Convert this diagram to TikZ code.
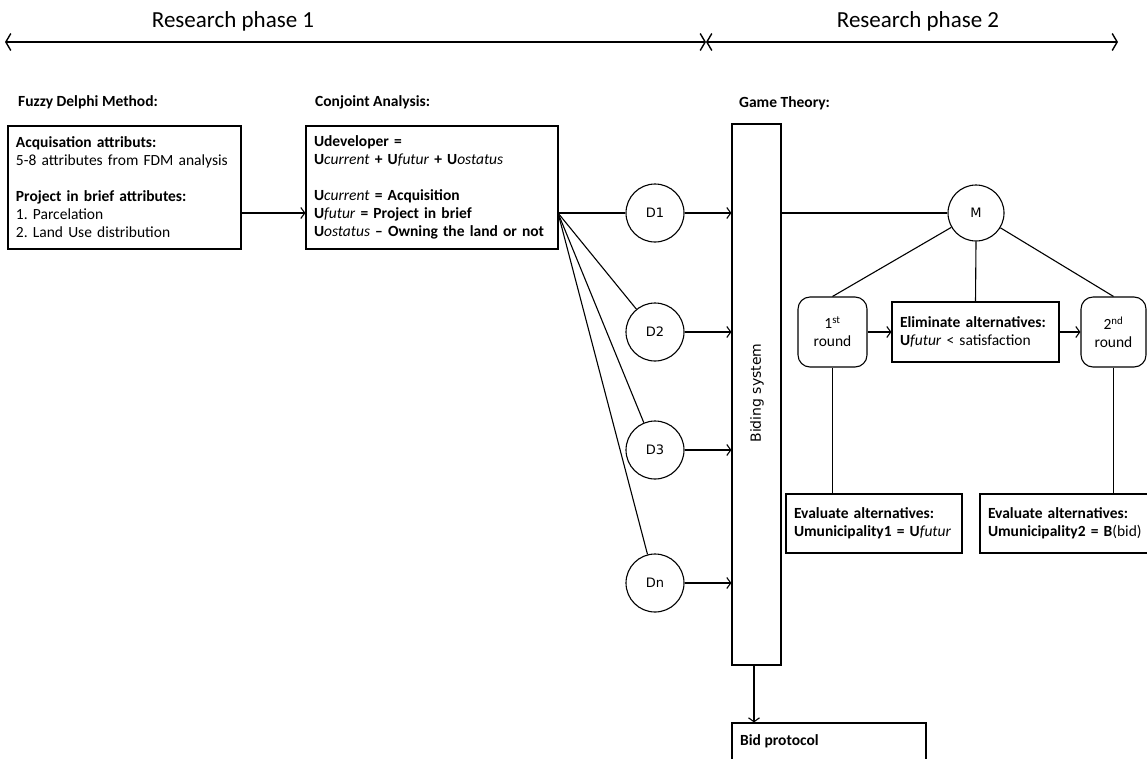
\documentclass[tikz,border=0pt]{standalone}
\usepackage{fontspec}
\setmainfont{Carlito}
\newfontfamily\labelfont{DejaVu Sans}
\usetikzlibrary{arrows.meta,calc}

\tikzset{
  line/.style={line width=1.1pt},
  arr/.style={line, -{Straight Barb[length=4pt,width=11pt,line width=1.1pt]}},
  phase/.style={line width=2.6pt, {Straight Barb[length=5pt,width=17pt,line width=1.4pt]}-{Straight Barb[length=5pt,width=17pt,line width=1.4pt]}},
  phasetitle/.style={font=\fontsize{23}{26}\selectfont},
  heading/.style={anchor=west, inner sep=0pt, font=\fontsize{15.5}{18}\selectfont\bfseries},
  txtbox/.style={draw, line width=1.1pt, align=left, inner xsep=8pt, inner ysep=4pt,
    font=\fontsize{15.5}{18}\selectfont},
  roundbox/.style={draw, line width=1.1pt, rounded corners=12pt, align=center,
    font=\fontsize{15.5}{18}\selectfont, minimum height=70pt, inner sep=2pt},
  agent/.style={draw, circle, line width=1.1pt, minimum size=58pt, inner sep=0pt,
    font=\labelfont\fontsize{13}{15}\selectfont},
}

\begin{document}
\begin{tikzpicture}[x=1pt,y=-1pt]
\useasboundingbox (0,0) rectangle (1147,758);

% research phases
\coordinate (pL) at (5,42);
\coordinate (pM) at (706,42);
\coordinate (pR) at (1118,42);
\draw[phase] (pL) -- (pM);
\draw[phase] (pM) -- (pR);
\node[phasetitle] (ph1) at (233,21) {Research phase 1};
\node[phasetitle] (ph2) at (918,21) {Research phase 2};

% section headings
\node[heading] (hFDM) at (18,102) {Fuzzy Delphi Method:};
\node[heading] (hCA) at (315,102) {Conjoint Analysis:};
\node[heading] (hGT) at (739,103) {Game Theory:};

% Fuzzy Delphi box
\node[txtbox, text width=217pt, minimum height=123pt] (fdm) at (124.5,187.5) {%
\textbf{Acquisation attributs:}\\
5-8 attributes from FDM analysis\\[18pt]
\textbf{Project in brief attributes:}\\
1.\ Parcelation\\
2.\ Land Use distribution};

% Conjoint analysis box
\node[txtbox, text width=236pt, minimum height=123pt] (ca) at (432,187.5) {%
\textbf{Udeveloper =}\\
\textbf{U}\textit{current} \textbf{+ U}\textit{futur} \textbf{+ U}\textit{ostatus}\\[18pt]
\textbf{U}\textit{current} \textbf{= Acquisition}\\
\textbf{U}\textit{futur} \textbf{= Project in brief}\\
\textbf{U}\textit{ostatus} \textbf{– Owning the land or not}};

\coordinate (src) at (558,213);

% developers
\node[agent] (d1) at (655,213) {D1};
\node[agent] (d2) at (655,332) {D2};
\node[agent] (d3) at (655,450) {D3};
\node[agent] (dn) at (655,583) {Dn};

% bidding system
\node[draw, line width=1.1pt, minimum width=49pt, minimum height=541pt, inner sep=0pt] (bid) at (756.5,394.5) {};
\node[rotate=90, font=\labelfont\fontsize{14}{16}\selectfont] (bidlbl) at (757,393) {Biding system};

% municipality
\node[agent, minimum size=56pt] (m) at (976,213) {M};

% rounds
\node[roundbox, minimum width=69pt] (r1) at (832.5,332) {1\textsuperscript{st}\\round};
\node[txtbox, text width=151pt, minimum height=60pt] (elim) at (975.5,332) {%
\textbf{Eliminate alternatives:}\\
\textbf{U}\textit{futur} < satisfaction};
\node[roundbox, minimum width=65pt] (r2) at (1113.5,332) {2\textsuperscript{nd}\\round};

% evaluations
\node[txtbox, text width=160pt, minimum height=59pt] (e1) at (874,523.5) {%
\textbf{Evaluate alternatives:}\\
\textbf{Umunicipality1 = U}\textit{futur}};
\node[txtbox, text width=162pt, minimum height=59pt] (e2) at (1069,523.5) {%
\textbf{Evaluate alternatives:}\\
\textbf{Umunicipality2 = B}(bid)};

% bid protocol
\node[draw, line width=1.1pt, minimum width=194pt, minimum height=42pt, inner sep=0pt] (bidp) at (829,744) {};
\node[anchor=west, inner sep=0pt, font=\fontsize{15.5}{18}\selectfont\bfseries] (bidptxt) at (740,741) {Bid protocol};

% connectors
\draw[arr] (fdm.east |- src) -- (ca.west |- src);
\draw[line] (src) -- (d1.west);
\draw[line] (src) -- (d2);
\draw[line] (src) -- (d3);
\draw[line] (src) -- (dn);
\foreach \d in {d1,d2,d3,dn}
  \draw[arr] (\d.east) -- (bid.west |- \d);
\draw[line] (bid.east |- m) -- (m.west);
\draw[line] (m) -- (r1.north);
\draw[line] (m.south) -- (elim.north);
\draw[line] (m) -- (r2.north);
\draw[arr] (r1.east) -- (elim.west);
\draw[arr] (elim.east) -- (r2.west);
\draw[line] (r1.south) -- (r1.south |- e1.north);
\draw[line] (r2.south) -- (r2.south |- e2.north);
\draw[arr] (bid.south -| 754,0) -- (754,0 |- bidp.north);
\end{tikzpicture}
\end{document}
